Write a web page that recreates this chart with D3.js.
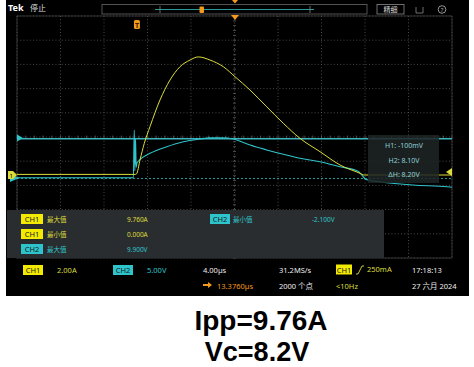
<!DOCTYPE html>
<html>
<head>
<meta charset="utf-8">
<script src="https://cdn.jsdelivr.net/npm/d3@7"></script>
<style>
  html, body { margin: 0; padding: 0; background: #fff; }
  svg { display: block; font-family: "Noto Sans", "Noto Sans CJK SC", sans-serif; }
</style>
</head>
<body>
<svg id="chart"></svg>
<script>
var width = 474;
var height = 367;

// CH1 current (A) vs time from left edge of screen (us)
var ch1Time = [0, 10.85, 11.0, 11.31, 11.7, 12.23, 13.15, 14.07, 14.99, 15.91, 16.67, 17.75, 18.97, 20.05, 21.43, 22.96, 24.49, 26.02, 27.86, 29.70, 31.54, 31.9, 40];
var ch1Amps = [0.05, 0.05, 0.1, 1.24, 2.6, 4.0, 6.2, 7.85, 8.95, 9.5, 9.76, 9.5, 8.95, 8.12, 7.02, 5.64, 4.27, 3.03, 1.93, 0.83, 0.14, 0.0, 0.0];

// CH2 voltage (V)
var ch2Time = [0, 10.7, 10.78, 10.84, 10.9, 10.96, 11.03, 11.31, 12.23, 13.77, 15.29, 16.83, 17.75, 18.94, 19.89, 21.43, 22.96, 24.49, 26.02, 27.86, 29.70, 31.36, 31.72, 32.09, 33.38, 36.41, 39.54, 40];
var ch2Volts = [0.05, 0.05, 9.9, 1.5, 8.2, 2.2, 3.1, 3.8, 5.1, 6.47, 7.5, 8.06, 8.3, 8.33, 8.06, 6.8, 5.8, 4.9, 4.07, 3.37, 2.33, 1.4, 0.6, -0.3, -0.76, -1.45, -1.8, -1.9];

var cursorH = [-0.1, 8.1];      // H1, H2 (V)
var trigLevel = 0.25;           // A
var trigTime = 11.03;           // us from left

var measures = [
    {ch: "CH1", name: "最大值", value: "9.760A"},
    {ch: "CH1", name: "最小值", value: "0.000A"},
    {ch: "CH2", name: "最大值", value: "9.900V"}
];
var cursorText = ["H1: -100mV", "H2: 8.10V", "\u0394H: 8.20V"];

var yellow = "#dcdc3c";
var badgeYellow = "#f2ea00";
var cyan = "#2ec4cc";
var orange = "#f39a1c";

var plot = {x0: 17, x1: 452, y0: 16, y1: 258};
var divY = (plot.y1 - plot.y0) / 10;

const svg = d3.select('#chart')
    .attr('width', width)
    .attr('height', height);

svg.append('rect').attr('x', 6).attr('y', 0).attr('width', 463).attr('height', 296).attr('fill', '#000');

var x = d3.scaleLinear().domain([0, 40]).range([plot.x0, plot.x1]);
// channel zero levels (pixel rows)
var ch1Zero = 175, ch2Zero = 178;
var y1 = d3.scaleLinear().domain([0, 2]).range([ch1Zero, ch1Zero - divY]);
var y2 = d3.scaleLinear().domain([0, 5]).range([ch2Zero, ch2Zero - divY]);
var yg = d3.scaleLinear().domain([0, 10]).range([plot.y0, plot.y1]);

// graticule
var grid = svg.append('g');
d3.range(0, 41, 4).forEach(function(t) {
    grid.append('line').attr('x1', x(t)).attr('x2', x(t)).attr('y1', plot.y0).attr('y2', plot.y1)
        .attr('stroke', '#5c5c5c').attr('stroke-width', 0.8).attr('stroke-dasharray', '1,2.2');
});
d3.range(0, 11).forEach(function(d) {
    grid.append('line').attr('x1', plot.x0).attr('x2', plot.x1).attr('y1', yg(d)).attr('y2', yg(d))
        .attr('stroke', '#5c5c5c').attr('stroke-width', 0.8).attr('stroke-dasharray', '1,2.2');
});
grid.append('rect').attr('x', plot.x0).attr('y', plot.y0).attr('width', plot.x1 - plot.x0).attr('height', plot.y1 - plot.y0)
    .attr('fill', 'none').attr('stroke', '#444').attr('stroke-width', 0.7);
// minor ticks on center lines
d3.range(0, 40.01, 0.8).forEach(function(t) {
    grid.append('line').attr('x1', x(t)).attr('x2', x(t)).attr('y1', yg(5) - 1.5).attr('y2', yg(5) + 1.5).attr('stroke', '#666').attr('stroke-width', 0.7);
});
d3.range(0, 10.01, 0.2).forEach(function(d) {
    grid.append('line').attr('x1', x(20) - 1.5).attr('x2', x(20) + 1.5).attr('y1', yg(d)).attr('y2', yg(d)).attr('stroke', '#666').attr('stroke-width', 0.7);
});

// measurement panel
svg.append('rect').attr('x', 7).attr('y', 210).attr('width', 377).attr('height', 48).attr('fill', '#2a2d2f');

// cursors
svg.append('line').attr('x1', plot.x0).attr('x2', plot.x1).attr('y1', y2(cursorH[0])).attr('y2', y2(cursorH[0]))
    .attr('stroke', cyan).attr('stroke-width', 0.8).attr('stroke-dasharray', '2,2');
svg.append('line').attr('x1', plot.x0).attr('x2', plot.x1).attr('y1', y2(cursorH[1])).attr('y2', y2(cursorH[1]))
    .attr('stroke', '#3cb6be').attr('stroke-width', 1.4);

// traces
var line1 = d3.line().x(function(d) { return x(d[0]); }).y(function(d) { return y1(d[1]); }).curve(d3.curveMonotoneX);
var line2 = d3.line().x(function(d) { return x(d[0]); }).y(function(d) { return y2(d[1]); }).curve(d3.curveMonotoneX);
svg.append('path').datum(d3.zip(ch2Time, ch2Volts)).attr('d', line2)
    .attr('fill', 'none').attr('stroke', cyan).attr('stroke-width', 1.1);
svg.append('path').datum(d3.zip(ch1Time, ch1Amps)).attr('d', line1)
    .attr('fill', 'none').attr('stroke', yellow).attr('stroke-width', 1);

// cursor readout
var cr = svg.append('g');
cr.append('rect').attr('x', 368).attr('y', 135).attr('width', 71).attr('height', 48).attr('fill', '#1e2426').attr('opacity', 0.85);
cursorText.forEach(function(t, i) {
    cr.append('text').attr('x', 404).attr('y', 148 + i * 14.5).attr('text-anchor', 'middle')
        .attr('font-size', 7).attr('fill', '#8fd0d6').text(t);
});

// left markers
svg.append('path').attr('d', 'M17,134.5 L23,138 L17,141.5 Z').attr('fill', cyan);
svg.append('path').attr('d', 'M10,' + (ch2Zero - 4) + ' L19,' + ch2Zero + ' L10,' + (ch2Zero + 4) + ' Z').attr('fill', cyan);
svg.append('path').attr('d', 'M8,' + (ch1Zero - 4) + ' L13,' + (ch1Zero - 4) + ' L17,' + ch1Zero + ' L13,' + (ch1Zero + 4) + ' L8,' + (ch1Zero + 4) + ' Z').attr('fill', yellow);
svg.append('text').attr('x', 9.5).attr('y', ch1Zero + 2.5).attr('font-size', 6).attr('fill', '#000').text('1');
// trigger level marker (right)
svg.append('path').attr('d', 'M452,' + (y1(trigLevel) - 4) + ' L446,' + y1(trigLevel) + ' L452,' + (y1(trigLevel) + 4) + ' Z').attr('fill', yellow);

// trigger position and horizontal position markers
svg.append('rect').attr('x', x(trigTime) - 3).attr('y', 20).attr('width', 6).attr('height', 9).attr('rx', 1.5).attr('fill', orange);
svg.append('text').attr('x', x(trigTime)).attr('y', 27.5).attr('text-anchor', 'middle').attr('font-size', 7).attr('font-weight', 'bold').attr('fill', '#3a2000').text('T');
svg.append('path').attr('d', 'M231,15 L239,15 L235,20 Z').attr('fill', orange);

// top bar
svg.append('text').attr('x', 8).attr('y', 11).attr('font-size', 9).attr('font-weight', 'bold').attr('fill', '#fff').text('Tek');
svg.append('text').attr('x', 30).attr('y', 11).attr('font-size', 8).attr('fill', '#ddd').attr('font-family', '"Noto Sans CJK SC"').text('停止');
svg.append('rect').attr('x', 102).attr('y', 4.5).attr('width', 265).attr('height', 9.5).attr('fill', 'none').attr('stroke', '#666').attr('stroke-width', 0.8);
svg.append('line').attr('x1', 155).attr('x2', 314).attr('y1', 9.5).attr('y2', 9.5).attr('stroke', '#2a9a9a').attr('stroke-width', 1);
svg.append('line').attr('x1', 160).attr('x2', 160).attr('y1', 6).attr('y2', 13).attr('stroke', '#888').attr('stroke-width', 0.8);
svg.append('line').attr('x1', 310).attr('x2', 310).attr('y1', 6).attr('y2', 13).attr('stroke', '#888').attr('stroke-width', 0.8);
svg.append('rect').attr('x', 199.5).attr('y', 6.5).attr('width', 4.5).attr('height', 6.5).attr('rx', 1).attr('fill', orange);
svg.append('path').attr('d', 'M232,0 L238,0 L235,3.5 Z').attr('fill', orange);
svg.append('rect').attr('x', 377).attr('y', 4.5).attr('width', 27).attr('height', 9.5).attr('fill', 'none').attr('stroke', '#888').attr('stroke-width', 0.8);
svg.append('text').attr('x', 390.5).attr('y', 12).attr('text-anchor', 'middle').attr('font-size', 7).attr('fill', '#ddd').attr('font-family', '"Noto Sans CJK SC"').text('精细');
svg.append('path').attr('d', 'M416,7 L416,13 L423,13 L423,7').attr('fill', 'none').attr('stroke', '#888').attr('stroke-width', 0.8);
svg.append('circle').attr('cx', 442).attr('cy', 9.5).attr('r', 3.8).attr('fill', 'none').attr('stroke', '#bbb').attr('stroke-width', 0.8);
svg.append('text').attr('x', 442).attr('y', 12).attr('text-anchor', 'middle').attr('font-size', 6).attr('fill', '#bbb').text('?');

function badge(xp, yp, label, bg, w) {
    svg.append('rect').attr('x', xp).attr('y', yp).attr('width', w || 22).attr('height', 10).attr('fill', bg);
    svg.append('text').attr('x', xp + (w || 22) / 2).attr('y', yp + 8).attr('text-anchor', 'middle')
        .attr('font-size', 7.5).attr('fill', '#1a1a1a').text(label);
}

// measurement rows
measures.forEach(function(m, i) {
    var yy = 214 + i * 15;
    var col = m.ch === "CH1" ? yellow : cyan;
    badge(21, yy, m.ch, m.ch === "CH1" ? badgeYellow : cyan);
    svg.append('text').attr('x', 47).attr('y', yy + 8).attr('font-size', 6.5).attr('fill', col).attr('font-family', '"Noto Sans CJK SC"').text(m.name);
    svg.append('text').attr('x', 127).attr('y', yy + 8).attr('font-size', 6.5).attr('fill', col).text(m.value);
});
badge(210, 214, "CH2", cyan, 20);
svg.append('text').attr('x', 233).attr('y', 222).attr('font-size', 6.5).attr('fill', cyan).attr('font-family', '"Noto Sans CJK SC"').text('最小值');
svg.append('text').attr('x', 312).attr('y', 222).attr('font-size', 6.5).attr('fill', cyan).text('-2.100V');

// status bar
badge(23, 265, "CH1", badgeYellow, 20);
svg.append('text').attr('x', 57).attr('y', 273).attr('font-size', 7.5).attr('fill', yellow).text('2.00A');
badge(113, 265, "CH2", cyan, 20);
svg.append('text').attr('x', 147).attr('y', 273).attr('font-size', 7.5).attr('fill', cyan).text('5.00V');
svg.append('text').attr('x', 203).attr('y', 273).attr('font-size', 7.5).attr('fill', '#eee').text('4.00\u00b5s');
svg.append('text').attr('x', 279).attr('y', 273).attr('font-size', 7.5).attr('fill', '#eee').text('31.2MS/s');
badge(336, 264.5, "CH1", badgeYellow, 16);
svg.append('path').attr('d', 'M356,274 L358,274 L362,266 L364,266').attr('fill', 'none').attr('stroke', yellow).attr('stroke-width', 0.9);
svg.append('text').attr('x', 367).attr('y', 272).attr('font-size', 7.5).attr('fill', yellow).text('250mA');
svg.append('text').attr('x', 412).attr('y', 273).attr('font-size', 7.5).attr('fill', '#eee').text('17:18:13');
svg.append('path').attr('d', 'M203,284 L208,284 L208,282 L212,285 L208,288 L208,286 L203,286 Z').attr('fill', orange);
svg.append('text').attr('x', 217).attr('y', 289).attr('font-size', 7.5).attr('fill', orange).text('13.3760\u00b5s');
svg.append('text').attr('x', 279).attr('y', 289).attr('font-size', 7.5).attr('fill', '#eee').text('2000 个点');
svg.append('text').attr('x', 336).attr('y', 289).attr('font-size', 7.5).attr('fill', yellow).text('<10Hz');
svg.append('text').attr('x', 412).attr('y', 289).attr('font-size', 7.5).attr('fill', '#eee').text('27 六月 2024');

// caption
svg.append('text').attr('x', 261).attr('y', 330).attr('text-anchor', 'middle').attr('font-family', '"Liberation Sans", Arial, sans-serif')
    .attr('font-size', 28).attr('font-weight', 'bold').attr('fill', '#000').text('Ipp=9.76A');
svg.append('text').attr('x', 257).attr('y', 361).attr('text-anchor', 'middle').attr('font-family', '"Liberation Sans", Arial, sans-serif')
    .attr('font-size', 27).attr('font-weight', 'bold').attr('fill', '#000').text('Vc=8.2V');
</script>
</body>
</html>
